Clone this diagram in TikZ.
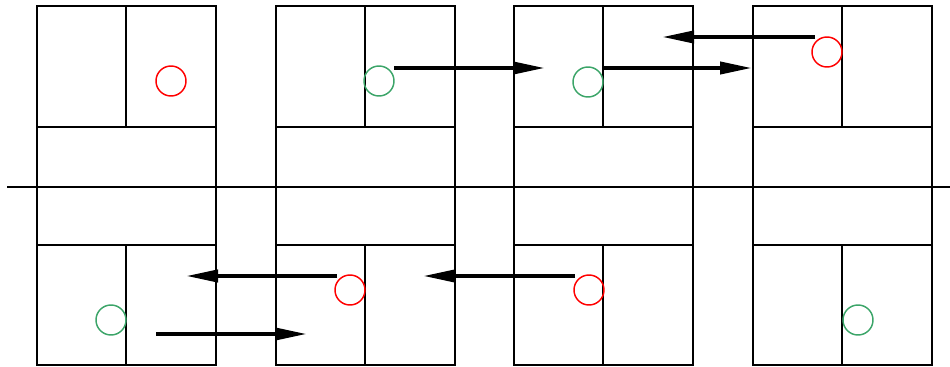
\documentclass[tikz,border=0pt]{standalone}
\usetikzlibrary{arrows.meta}

\definecolor{mygreen}{RGB}{60,165,105}

\tikzset{
  wall/.style={draw=black, line width=1.4pt},
  spot/.style={circle, draw, line width=1.1pt, minimum size=22.5pt, inner sep=0pt},
  move/.style={line width=3pt, -{Triangle[length=24pt,width=9pt]}}
}

\begin{document}
\begin{tikzpicture}[x=0.75pt, y=-0.75pt]
\useasboundingbox (0,0) rectangle (950,367);
\draw[wall] (7,187) -- (950,187);
\foreach \x in {37,276,514,753} {
  \draw[wall] (\x,6) rectangle ++(179,359);
  \draw[wall] (\x,127) -- ++(179,0);
  \draw[wall] (\x,245) -- ++(179,0);
  \draw[wall] (\x+89,6) -- (\x+89,127);
  \draw[wall] (\x+89,245) -- (\x+89,365);
}
\node[spot, draw=red]      (red a)   at (171,81)  {};
\node[spot, draw=mygreen]  (green a) at (379,81)  {};
\node[spot, draw=mygreen]  (green b) at (588,82)  {};
\node[spot, draw=red]      (red b)   at (827,52)  {};
\node[spot, draw=mygreen]  (green c) at (111,320) {};
\node[spot, draw=red]      (red c)   at (350,290) {};
\node[spot, draw=red]      (red d)   at (589,290) {};
\node[spot, draw=mygreen]  (green d) at (858,320) {};
\coordinate (ga out) at ([shift={(15,-13)}]green a);
\coordinate (ga in)  at (545,68);
\coordinate (gb out) at ([shift={(15,-14)}]green b);
\coordinate (gb in)  at (752,68);
\coordinate (rb out) at ([shift={(-12,-15)}]red b);
\coordinate (rb in)  at (662,37);
\coordinate (gc out) at ([shift={(45,14)}]green c);
\coordinate (gc in)  at (307,334);
\coordinate (rc out) at ([shift={(-13,-14)}]red c);
\coordinate (rc in)  at (186,276);
\coordinate (rd out) at ([shift={(-14,-14)}]red d);
\coordinate (rd in)  at (423,276);
\draw[move] (ga out) -- (ga in);
\draw[move] (gb out) -- (gb in);
\draw[move] (rb out) -- (rb in);
\draw[move] (gc out) -- (gc in);
\draw[move] (rc out) -- (rc in);
\draw[move] (rd out) -- (rd in);
\end{tikzpicture}
\end{document}
